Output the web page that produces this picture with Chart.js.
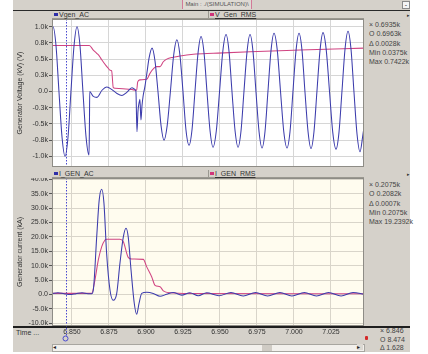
<!DOCTYPE html>
<html>
<head>
<meta charset="utf-8">
<script src="https://cdn.jsdelivr.net/npm/chart.js@4.4.0/dist/chart.umd.min.js"></script>
<style>
  body { margin:0; width:428px; height:354px; background:#fff; position:relative; overflow:hidden;
         font-family:"Liberation Sans", Arial, sans-serif; color:#333; }
  .a { position:absolute; }
  .txt { font-size:7px; line-height:9px; white-space:nowrap; }
  #frame { left:13px; top:0; width:397px; height:352px; background:#d5d1ca; }
  .darkline { background:#2a2a2a; height:1px; }
  .strip { background:#d5d1ca; border-bottom:1px solid #9a9890; height:7px; }
  .sq { width:4px; height:3px; }
  .rd { font-size:7px; line-height:9.3px; white-space:nowrap; color:#444; }
</style>
</head>
<body>
<div class="a" id="frame"></div>

<!-- window title tab -->
<div class="a darkline" style="left:13px;top:10px;width:397px;"></div>
<div class="a txt" style="left:182px;top:0;width:68px;height:9px;background:#dedad4;border-left:1px solid #d27a98;border-right:1px solid #d27a98;font-size:6px;line-height:9px;text-align:center;color:#555;">Main : ./(SIMULATION)\</div>
<div class="a" style="left:402px;top:1px;width:6px;height:6px;background:#f4f4f4;border:1px solid #8a8a8a;font-size:7px;line-height:5px;text-align:center;">-</div>

<!-- upper legend strip -->
<div class="a strip" style="left:52px;top:11px;width:312px;"></div>
<div class="a" style="left:208px;top:11px;width:1px;height:8px;background:#9a9890;"></div>
<div class="a sq" style="left:54px;top:13px;background:#2f2fa8;"></div>
<div class="a txt" style="left:59px;top:10px;">Vgen_AC</div>
<div class="a sq" style="left:210px;top:13px;background:#d0347a;"></div>
<div class="a txt" style="left:215px;top:10px;text-decoration:underline;">V_Gen_RMS</div>
<div class="a" style="left:407px;top:12px;font-size:5px;">&#9656;</div>

<!-- lower legend strip -->
<div class="a strip" style="left:52px;top:170px;width:312px;"></div>
<div class="a" style="left:208px;top:170px;width:1px;height:8px;background:#9a9890;"></div>
<div class="a sq" style="left:54px;top:172px;background:#2f2fa8;"></div>
<div class="a txt" style="left:59px;top:169px;">I_GEN_AC</div>
<div class="a sq" style="left:210px;top:172px;background:#d0347a;"></div>
<div class="a txt" style="left:215px;top:169px;text-decoration:underline;">I_GEN_RMS</div>
<div class="a" style="left:407px;top:171px;font-size:5px;">&#9656;</div>

<!-- readouts -->
<div class="a rd" style="left:369px;top:20px;">&#215; 0.6935k<br>O 0.6963k<br>&#916; 0.0028k<br>Min 0.0375k<br>Max 0.7422k</div>
<div class="a rd" style="left:369px;top:180px;">&#215; 0.2075k<br>O 0.2082k<br>&#916; 0.0007k<br>Min 0.2075k<br>Max 19.2392k</div>

<!-- time strip -->
<div class="a" style="left:13px;top:326px;width:397px;height:1.5px;background:#1e1e1e;"></div>
<div class="a txt" style="left:16px;top:328px;">Time ...</div>
<div class="a rd" style="left:380px;top:327px;line-height:8.6px;">&#215; 6.846<br>O 8.474<br>&#916; 1.628</div>
<div class="a" style="left:365px;top:336px;width:3px;height:4px;background:#d42a2a;border-radius:1px;"></div>
<!-- scrollbar -->
<div class="a" style="left:52px;top:344px;width:311px;height:6px;background:#f2f0ec;border:1px solid #a8a6a0;"></div>
<div class="a" style="left:53px;top:344px;font-size:6px;line-height:7px;color:#222;">&#9666;</div>
<div class="a" style="left:262px;top:345px;width:10px;height:6px;background:#cfcbc4;"></div>
<div class="a" style="left:357px;top:344px;width:6px;height:6px;background:#dcd8d2;font-size:6px;line-height:7px;color:#222;">&#9656;</div>

<canvas id="upper" class="a" width="351" height="148" style="left:13px;top:19px;"></canvas>
<canvas id="lower" class="a" width="351" height="167" style="left:13px;top:178px;"></canvas>

<script>
// time window and cursor (s)
const tMin = 6.8365;
const tMax = 7.0473;
const cursorTime = 6.846;

const timeTicks = [6.850, 6.875, 6.900, 6.925, 6.950, 6.975, 7.000, 7.025];
const voltTicks = [-1.0, -0.75, -0.5, -0.25, 0.0, 0.25, 0.5, 0.75, 1.0];
const currentTicks = [-10, -5, 0, 5, 10, 15, 20, 25, 30, 35, 40];

// Vgen_AC (kV)
const vAcTime = [
  6.8365, 6.8372, 6.8392, 6.8412, 6.8433, 6.8453, 6.8473, 6.8493, 6.8514, 6.8534,
  6.8554, 6.8574, 6.8595, 6.8615, 6.8618, 6.8620, 6.8642, 6.8669, 6.8703, 6.8736,
  6.8770, 6.8804, 6.8838, 6.8872, 6.8905, 6.8926, 6.8932, 6.8939, 6.8946, 6.8953,
  6.8959, 6.8966, 6.8973, 6.8980, 6.8993, 6.9007, 6.9021, 6.9041, 6.9061, 6.9081,
  6.9102, 6.9122, 6.9143, 6.9165, 6.9187, 6.9209, 6.9229, 6.9250, 6.9270, 6.9291,
  6.9311, 6.9331, 6.9352, 6.9372, 6.9392, 6.9412, 6.9433, 6.9453, 6.9475, 6.9497,
  6.9519, 6.9541, 6.9561, 6.9581, 6.9602, 6.9622, 6.9642, 6.9662, 6.9683, 6.9703,
  6.9723, 6.9743, 6.9764, 6.9784, 6.9804, 6.9824, 6.9845, 6.9865, 6.9887, 6.9909,
  6.9931, 6.9953, 6.9973, 6.9993, 7.0014, 7.0034, 7.0054, 7.0074, 7.0095, 7.0115,
  7.0135, 7.0155, 7.0176, 7.0196, 7.0218, 7.0240, 7.0262, 7.0284, 7.0304, 7.0324,
  7.0345, 7.0365, 7.0385, 7.0405, 7.0426, 7.0446, 7.0466, 7.0473
];
const vAcValues = [
  0.99, 1.00, 0.71, 0.00, -0.71, -1.00, -0.71, 0.00, 0.71, 1.00,
  0.71, 0.00, -0.70, -0.98, -0.50, 0.00, -0.07, -0.09, 0.02, 0.07,
  0.03, -0.03, -0.06, -0.01, 0.06, 0.03, 0.00, -0.62, -0.30, -0.18,
  -0.12, -0.44, -0.22, -0.08, 0.08, 0.30, 0.52, 0.67, 0.47, 0.00,
  -0.53, -0.75, -0.53, 0.00, 0.56, 0.80, 0.57, 0.00, -0.59, -0.83,
  -0.59, 0.00, 0.60, 0.85, 0.60, 0.00, -0.61, -0.86, -0.61, 0.00,
  0.62, 0.88, 0.62, 0.00, -0.61, -0.86, -0.61, 0.00, 0.62, 0.88,
  0.62, 0.00, -0.62, -0.87, -0.62, 0.00, 0.64, 0.90, 0.64, 0.00,
  -0.62, -0.87, -0.62, 0.00, 0.64, 0.90, 0.64, 0.00, -0.62, -0.88,
  -0.62, 0.00, 0.64, 0.91, 0.64, 0.00, -0.63, -0.89, -0.63, 0.00,
  0.66, 0.93, 0.66, 0.00, -0.66, -0.93, -0.66, -0.55
];

// V_Gen_RMS (kV)
const vRmsTime = [
  6.8365, 6.8617, 6.8644, 6.8667, 6.8684, 6.8701, 6.8730, 6.8745, 6.8757, 6.8768,
  6.8779, 6.8791, 6.8903, 6.8937, 6.8944, 6.8959, 6.9005, 6.9027, 6.9054, 6.9072,
  6.9095, 6.9117, 6.9140, 6.9184, 6.9230, 6.9320, 6.9455, 6.9703, 7.0041, 7.0473
];
const vRmsValues = [
  0.71, 0.71, 0.64, 0.59, 0.55, 0.49, 0.40, 0.36, 0.33, 0.32,
  0.06, 0.05, 0.03, 0.02, 0.15, 0.18, 0.19, 0.28, 0.36, 0.385,
  0.385, 0.46, 0.50, 0.53, 0.55, 0.575, 0.59, 0.615, 0.64, 0.67
];

// I_GEN_AC (kA)
const iAcTime = [
  6.8365, 6.8405, 6.8446, 6.8486, 6.8527, 6.8568, 6.8608, 6.8633, 6.8644, 6.8667,
  6.8684, 6.8701, 6.8716, 6.8734, 6.8757, 6.8779, 6.8802, 6.8824, 6.8847, 6.8865,
  6.8880, 6.8899, 6.8921, 6.8937, 6.8953, 6.8971, 6.9005, 6.9049, 6.9095, 6.9140,
  6.9184, 6.9241, 6.9297, 6.9353, 6.9410, 6.9493, 6.9574, 6.9657, 6.9740, 6.9822,
  6.9905, 6.9986, 7.0070, 7.0152, 7.0234, 7.0318, 7.0399, 7.0473
];
const iAcValues = [
  0.3, 0.6, 0.3, 0.0, 0.3, 0.6, 0.3, 0.3, 1.5, 20.0,
  32.8, 36.5, 31.7, 14.3, 1.5, -2.0, 0.3, 10.8, 20.0, 23.0,
  20.0, 8.5, -3.1, -6.8, -3.1, 0.4, 0.8, 0.4, -0.6, 0.1,
  0.7, -0.2, 0.6, -0.4, 0.6, -0.4, 0.7, -0.5, 0.7, -0.5,
  0.7, -0.5, 0.7, -0.5, 0.7, -0.5, 0.7, 0.1
];

// I_GEN_RMS (kA)
const iRmsTime = [
  6.8365, 6.8633, 6.8655, 6.8678, 6.8701, 6.8723, 6.8734, 6.8824, 6.8847, 6.8880,
  6.8903, 6.8982, 6.9005, 6.9039, 6.9061, 6.9095, 6.9117, 6.9162, 6.9300, 7.0473
];
const iRmsValues = [
  0.4, 0.4, 5.0, 12.0, 16.6, 18.9, 19.2, 19.2, 18.3, 12.9,
  12.3, 12.2, 9.6, 6.1, 3.2, 2.7, 1.3, 0.6, 0.35, 0.3
];

const AC_COLOR = '#3c3cac';
const RMS_COLOR = '#d04482';
const FONT = '"Liberation Sans", Arial, sans-serif';
Chart.defaults.font.family = FONT;

function pairs(ts, vs) {
  return ts.map((t, i) => ({ x: t, y: vs[i] }));
}

function kLabel(v) {
  return v === 0 ? '0.0' : v.toFixed(1) + 'k';
}

// plot background, cursor line, frame
const plotFrame = {
  id: 'plotFrame',
  beforeDraw(chart, args, opts) {
    const a = chart.chartArea, ctx = chart.ctx;
    ctx.save();
    ctx.fillStyle = opts.bg;
    ctx.fillRect(a.left, a.top, a.right - a.left, a.bottom - a.top);
    ctx.restore();
  },
  beforeDatasetsDraw(chart, args, opts) {
    const a = chart.chartArea, ctx = chart.ctx;
    const x = Math.round(chart.scales.x.getPixelForValue(cursorTime)) + 0.5;
    ctx.save();
    ctx.strokeStyle = '#4a4ad0';
    ctx.lineWidth = 1;
    ctx.setLineDash([1.5, 1.5]);
    ctx.beginPath();
    ctx.moveTo(x, a.top);
    ctx.lineTo(x, opts.cursorEnd || a.bottom);
    ctx.stroke();
    ctx.setLineDash([]);
    if (opts.cursorEnd) {
      ctx.beginPath();
      ctx.arc(x - 1, opts.cursorEnd + 2.5, 2.5, 0, Math.PI * 2);
      ctx.stroke();
    }
    ctx.restore();
  },
  afterDraw(chart) {
    const a = chart.chartArea, ctx = chart.ctx;
    ctx.save();
    ctx.strokeStyle = '#8e8c86';
    ctx.lineWidth = 1;
    ctx.strokeRect(a.left + 0.5, a.top + 0.5, a.right - a.left - 1, a.bottom - a.top - 1);
    ctx.restore();
  }
};

function buildChart(id, cfg) {
  return new Chart(document.getElementById(id), {
    type: 'line',
    data: {
      datasets: [
        { data: pairs(cfg.acT, cfg.acV), borderColor: AC_COLOR },
        { data: pairs(cfg.rmsT, cfg.rmsV), borderColor: RMS_COLOR }
      ]
    },
    options: {
      responsive: false,
      animation: false,
      events: [],
      layout: { padding: 0, autoPadding: false },
      elements: {
        point: { radius: 0 },
        line: { borderWidth: 1.05, cubicInterpolationMode: 'monotone', fill: false }
      },
      plugins: {
        legend: { display: false },
        tooltip: { enabled: false },
        plotFrame: { bg: cfg.bg, cursorEnd: cfg.cursorEnd }
      },
      scales: {
        x: {
          type: 'linear',
          min: tMin,
          max: tMax,
          afterBuildTicks: s => { s.ticks = timeTicks.map(v => ({ value: v })); },
          afterFit: s => { s.height = cfg.xHeight; s.paddingLeft = 0; s.paddingRight = 0; },
          ticks: {
            display: cfg.xLabels,
            autoSkip: false,
            maxRotation: 0,
            padding: 2,
            color: '#333',
            font: { size: 7 },
            callback: v => v.toFixed(3)
          },
          grid: { color: cfg.gridColor, drawTicks: false },
          border: { display: false }
        },
        y: {
          min: cfg.yMin,
          max: cfg.yMax,
          afterBuildTicks: s => { s.ticks = cfg.yTicks.map(v => ({ value: v })); },
          afterFit: s => { s.width = 39; s.paddingTop = 0; s.paddingBottom = 0; },
          ticks: {
            padding: 1,
            color: '#333',
            font: { size: 7 },
            callback: v => kLabel(v)
          },
          grid: { color: cfg.gridColor, tickLength: 3, tickColor: '#555' },
          border: { display: false },
          title: {
            display: true,
            text: cfg.title,
            color: '#333',
            font: { size: 7 },
            padding: { top: 3, bottom: 0 }
          }
        }
      }
    },
    plugins: [plotFrame]
  });
}

buildChart('upper', {
  acT: vAcTime, acV: vAcValues, rmsT: vRmsTime, rmsV: vRmsValues,
  yMin: -1.165, yMax: 1.12, yTicks: voltTicks,
  title: 'Generator Voltage (kV) (V)',
  bg: '#ffffff', gridColor: '#d6d6d6',
  xLabels: false, xHeight: 0
});

buildChart('lower', {
  acT: iAcTime, acV: iAcValues, rmsT: iRmsTime, rmsV: iRmsValues,
  yMin: -10.9, yMax: 40.4, yTicks: currentTicks,
  title: 'Generator current (kA)',
  bg: '#fffcef', gridColor: '#d9d5ca',
  xLabels: true, xHeight: 19, cursorEnd: 158
});
</script>
</body>
</html>
